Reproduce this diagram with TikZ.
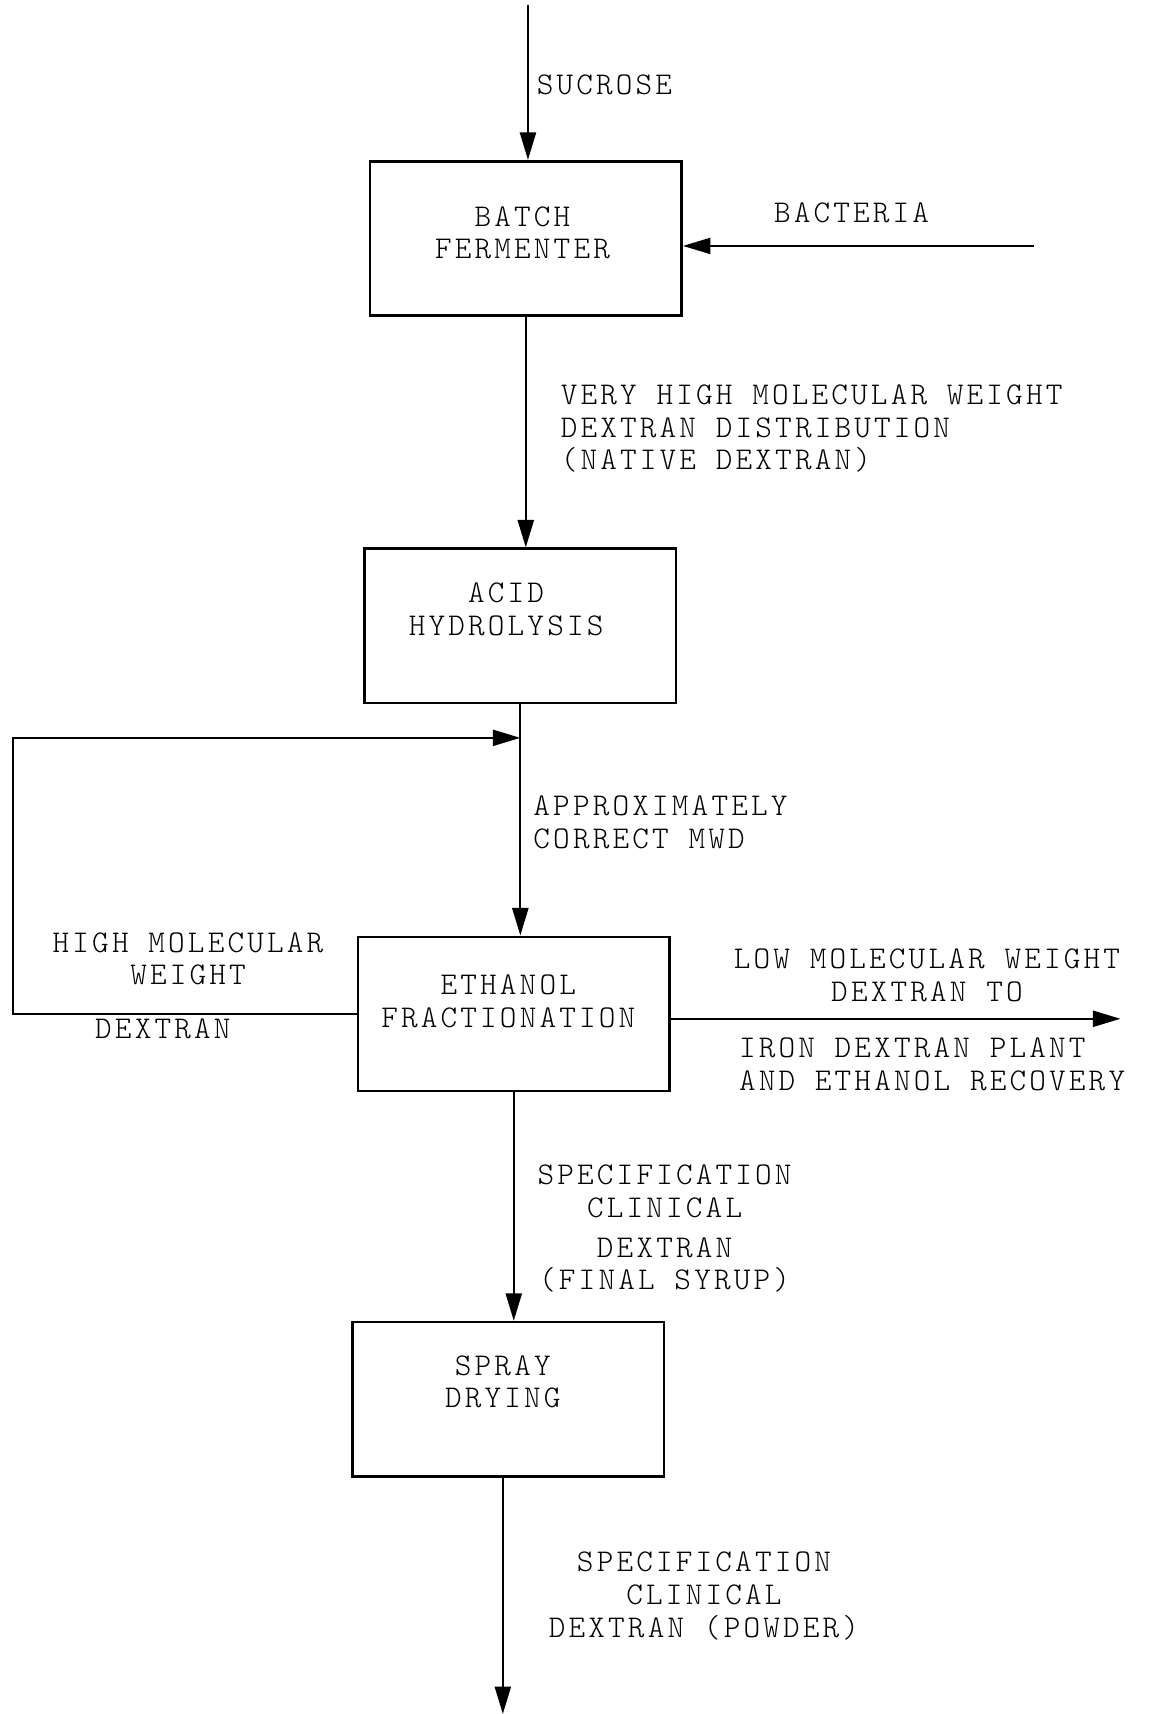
\documentclass[tikz,border=0pt]{standalone}
\usepackage{fontspec}
\setmonofont{lmmonolt10-regular.otf}[LetterSpace=10]
\usetikzlibrary{arrows.meta}

\tikzset{
  unit/.style={draw, line width=1.5pt, minimum width=6.23cm, minimum height=3.08cm},
  lbl/.style={font=\ttfamily\fontsize{18}{18.6}\selectfont, inner sep=0pt, align=center},
}

\begin{document}
\begin{tikzpicture}[>={Triangle[length=5.5mm,width=3.2mm]}, x=0.02185cm, y=-0.02185cm, line width=1.3pt]
  \useasboundingbox (0,0) rectangle (1058,1568);
  \node[unit] (fer) at (481,218) {};
  \node[unit] (acid) at (476,572.5) {};
  \node[unit] (eth) at (470,927.5) {};
  \node[unit] (spray) at (465,1280) {};
  \node[lbl] (fertxt) at (478,213) {BATCH\\FERMENTER};
  \node[lbl] (acidtxt) at (463,557.5) {ACID\\HYDROLYSIS};
  \node[lbl] (ethtxt) at (465,916) {ETHANOL\\FRACTIONATION};
  \node[lbl] (spraytxt) at (460,1264) {SPRAY\\DRYING};
  \node[lbl, anchor=west] (sucrose) at (490,78) {SUCROSE};
  \node[lbl] (bacteria) at (779,195) {BACTERIA};
  \node[lbl, anchor=west, align=left] (native) at (512,392) {VERY HIGH MOLECULAR WEIGHT\\DEXTRAN DISTRIBUTION\\(NATIVE DEXTRAN)};
  \node[lbl, anchor=west, align=left] (mwd) at (487,752) {APPROXIMATELY\\CORRECT MWD};
  \node[lbl] (hmw) at (172,877) {HIGH MOLECULAR\\WEIGHT};
  \node[lbl] (hmwdex) at (149,941) {DEXTRAN};
  \node[lbl] (lmw) at (848,892) {LOW MOLECULAR WEIGHT\\DEXTRAN TO};
  \node[lbl, anchor=west, align=left] (iron) at (675,973.5) {IRON DEXTRAN PLANT\\AND ETHANOL RECOVERY};
  \node[lbl] (syrup) at (608,1124) {SPECIFICATION\\CLINICAL\\[4pt]DEXTRAN\\(FINAL SYRUP)};
  \node[lbl] (powder) at (644,1460) {SPECIFICATION\\CLINICAL\\DEXTRAN (POWDER)};
  \coordinate (feed) at (483,5);
  \coordinate (bac) at (946,225);
  \coordinate (loop) at (12,675);
  \coordinate (lmwend) at (1025,932);
  \coordinate (prod) at (460,1568);
  \draw[->] (feed) -- (feed |- fer.north);
  \draw[->] (bac) -- (bac -| fer.east);
  \draw[->] (fer.south) -- (fer.south |- acid.north);
  \draw[->] (acid.south) -- (acid.south |- eth.north);
  \draw[->] (eth.west) -| (loop) -- (loop -| acid.south);
  \draw[->] (eth.east |- lmwend) -- (lmwend);
  \draw[->] (eth.south) -- (eth.south |- spray.north);
  \draw[->] (spray.south -| prod) -- (prod);
\end{tikzpicture}
\end{document}
